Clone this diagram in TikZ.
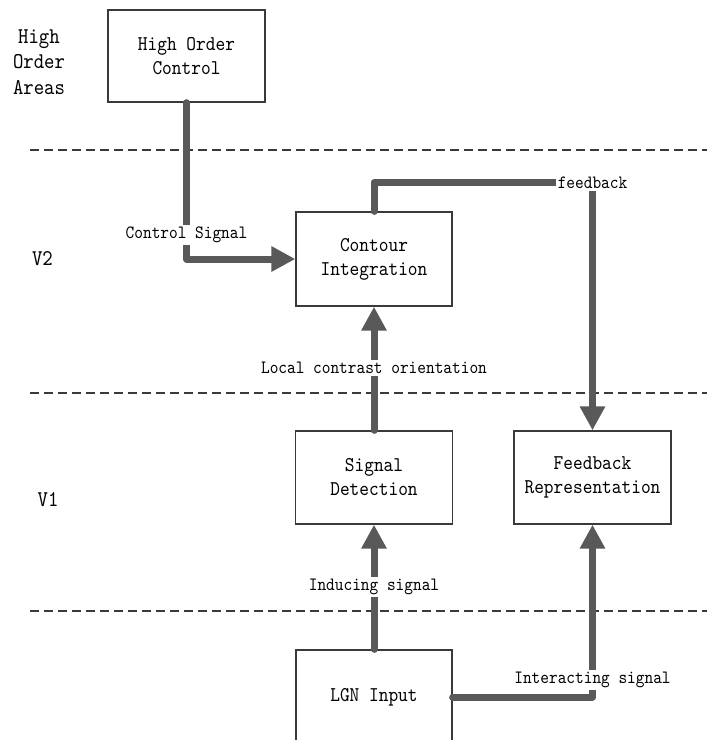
\documentclass[tikz,border=0pt]{standalone}
\usepackage{fontspec}
\usetikzlibrary{arrows.meta}
\newfontfamily\diagfont{lmmono10-regular.otf}[FakeStretch=0.88]
\definecolor{flowgray}{HTML}{595959}
\definecolor{edgegray}{HTML}{3A3A3A}
\begin{document}
\begin{tikzpicture}[x=1pt,y=-1pt,
  box/.style={draw=edgegray, line width=1.3pt, minimum width=157pt, minimum height=93pt,
    align=center, inner sep=0pt, font=\diagfont\fontsize{21}{24}\selectfont},
  flow/.style={draw=flowgray, line width=7pt, line cap=round, line join=round},
  arr/.style={flow, -{Triangle[width=24pt,length=24pt]}},
  lbl/.style={fill=white, inner sep=2pt, font=\diagfont\fontsize{18.8}{20}\selectfont},
  side/.style={align=center, font=\diagfont\fontsize{22.5}{25.5}\selectfont},
  sep/.style={draw=edgegray, line width=1.2pt, dash pattern=on 9pt off 5pt}]
\clip (0,0) rectangle (707,740);
\fill[white] (0,0) rectangle (707,740);

% separators
\draw[sep] (30,150) -- (707,150);
\draw[sep] (30,393) -- (707,393);
\draw[sep] (30,611) -- (707,611);

% side labels
\node[side] (hoa) at (39,62) {High\\Order\\Areas};
\node[side] (v2) at (42.5,259) {V2};
\node[side] (v1) at (48,500) {V1};

% boxes
\node[box, minimum height=92pt] (hoc) at (186.5,56) {High Order\\Control};
\node[box, minimum width=156pt, minimum height=94pt] (ci) at (374,259) {Contour\\Integration};
\node[box, minimum width=156.5pt] (sd) at (374,477.5) {Signal\\Detection};
\node[box] (fr) at (592.5,477.5) {Feedback\\Representation};
\node[box, minimum width=156pt, minimum height=94pt] (lgn) at (374,697) {LGN Input};

% connectors
\draw[arr] (hoc.south) |- (ci.west);
\draw[arr] (sd.north) -- (ci.south);
\draw[arr] (ci.north) -- ++(0,-29) -| (fr.north);
\draw[arr] (lgn.north) -- (sd.south);
\draw[arr] (lgn.east) -| (fr.south);

% connector labels
\node[lbl] (lcs) at (186.5,235) {Control Signal};
\node[lbl] (llc) at (374,368) {Local contrast orientation};
\node[lbl] (lfb) at (592.5,183) {feedback};
\node[lbl] (lind) at (374,587) {Inducing signal};
\node[lbl] (lint) at (592.5,680) {Interacting signal};
\end{tikzpicture}
\end{document}
